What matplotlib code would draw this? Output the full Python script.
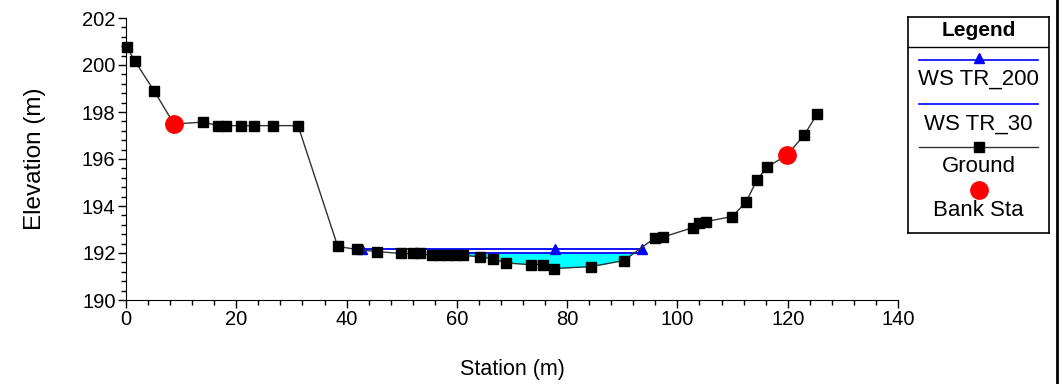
import numpy as np
import matplotlib.pyplot as plt
from matplotlib.ticker import MultipleLocator
from matplotlib.lines import Line2D

plt.rcParams['font.family'] = ['Liberation Sans', 'DejaVu Sans']
plt.rcParams['font.size'] = 14

# Ground profile (station, elevation)
sta = [0.2, 1.6, 5.1, 8.7, 14.0, 16.7, 18.1, 20.9, 23.2, 26.7, 31.2,
       38.4, 41.9, 45.5, 49.9, 52.0, 53.3, 55.5, 57.0, 58.4, 59.7, 61.1,
       64.2, 66.6, 68.9, 73.4, 75.6, 77.6, 84.3, 90.3, 95.9, 97.4,
       102.8, 103.9, 105.2, 109.9, 112.4, 114.4, 116.3, 119.9, 123.0, 125.3]
elev = [200.75, 200.17, 198.9, 197.49, 197.57, 197.42, 197.42, 197.42, 197.42, 197.42, 197.42,
        192.28, 192.15, 192.06, 191.98, 191.98, 191.98, 191.9, 191.9, 191.9, 191.9, 191.9,
        191.84, 191.75, 191.58, 191.5, 191.5, 191.34, 191.42, 191.68, 192.64, 192.68,
        193.08, 193.28, 193.34, 193.55, 194.15, 195.1, 195.66, 196.18, 197.02, 197.9]

# Bank stations
bank_sta = [8.7, 119.9]
bank_elev = [197.49, 196.18]

# Water surfaces
ws200_sta = [42.8, 77.8, 93.6]
ws200_elev = 192.17
ws30_sta = [55.0, 93.0]
ws30_elev = 191.98

fig = plt.figure(figsize=(10.63, 3.84), dpi=100)
ax = fig.add_axes([126/1063, 1 - 300/384, 772/1063, 282/384])

# water fill for TR_30
sx = np.linspace(ws30_sta[0], ws30_sta[1], 400)
gz = np.interp(sx, sta, elev)
ax.fill_between(sx, gz, ws30_elev, where=gz < ws30_elev, color='#00ffff', lw=0, zorder=1)
ax.plot(ws30_sta, [ws30_elev] * 2, color='blue', lw=1.3, zorder=2)
ax.plot([ws200_sta[0], ws200_sta[-1]], [ws200_elev] * 2, color='blue', lw=1.3, zorder=2)
ax.plot(ws200_sta, [ws200_elev] * 3, ls='none', marker='^', color='blue', ms=6.5, zorder=3)

ax.plot(sta, elev, color='#333333', lw=1.0, marker='s', ms=7, mfc='black', mec='black',
        zorder=4, clip_on=False)
ax.plot(bank_sta, bank_elev, ls='none', marker='o', color='red', ms=12.5, zorder=5)

ax.set_xlim(0, 140)
ax.set_ylim(190, 202)
ax.xaxis.set_major_locator(MultipleLocator(20))
ax.xaxis.set_minor_locator(MultipleLocator(4))
ax.yaxis.set_major_locator(MultipleLocator(2))
ax.yaxis.set_minor_locator(MultipleLocator(0.4))
ax.tick_params(which='major', length=6, width=1, direction='out', labelsize=14.5, pad=1.5)
ax.tick_params(which='minor', length=3.5, width=1, direction='out')
for s in ['top', 'right']:
    ax.spines[s].set_visible(False)
ax.set_xlabel('Station (m)', fontsize=15.5, labelpad=21)
ax.set_ylabel('Elevation (m)', fontsize=17.5, labelpad=26)

# custom legend box
lg = fig.add_axes([908/1063, 1 - 233/384, 141/1063, 216/384])
lg.set_xlim(0, 141)
lg.set_ylim(216, 0)
lg.set_xticks([])
lg.set_yticks([])
for s in lg.spines.values():
    s.set_linewidth(1.2)
lg.add_line(Line2D([0, 141], [30, 30], color='black', lw=1))
lg.text(70.5, 14, 'Legend', ha='center', va='center', fontsize=15, fontweight='bold')
lg.plot([11, 130], [43, 43], color='blue', lw=1.2)
lg.plot([70.5], [41], marker='^', color='blue', ms=6.5)
lg.text(70.5, 62, 'WS TR_200', ha='center', va='center', fontsize=16)
lg.plot([11, 130], [87, 87], color='blue', lw=1.2)
lg.text(70.5, 107, 'WS TR_30', ha='center', va='center', fontsize=16)
lg.plot([11, 130], [130, 130], color='#333333', lw=1)
lg.plot([70.5], [130], marker='s', color='black', ms=7)
lg.text(70.5, 149, 'Ground', ha='center', va='center', fontsize=16)
lg.plot([70.5], [173], marker='o', color='red', ms=12.5)
lg.text(70.5, 194, 'Bank Sta', ha='center', va='center', fontsize=16)

# right border
fig.add_artist(Line2D([1057/1063] * 2, [0, 1], color='black', lw=2))

fig.savefig('out.png', dpi=100)
